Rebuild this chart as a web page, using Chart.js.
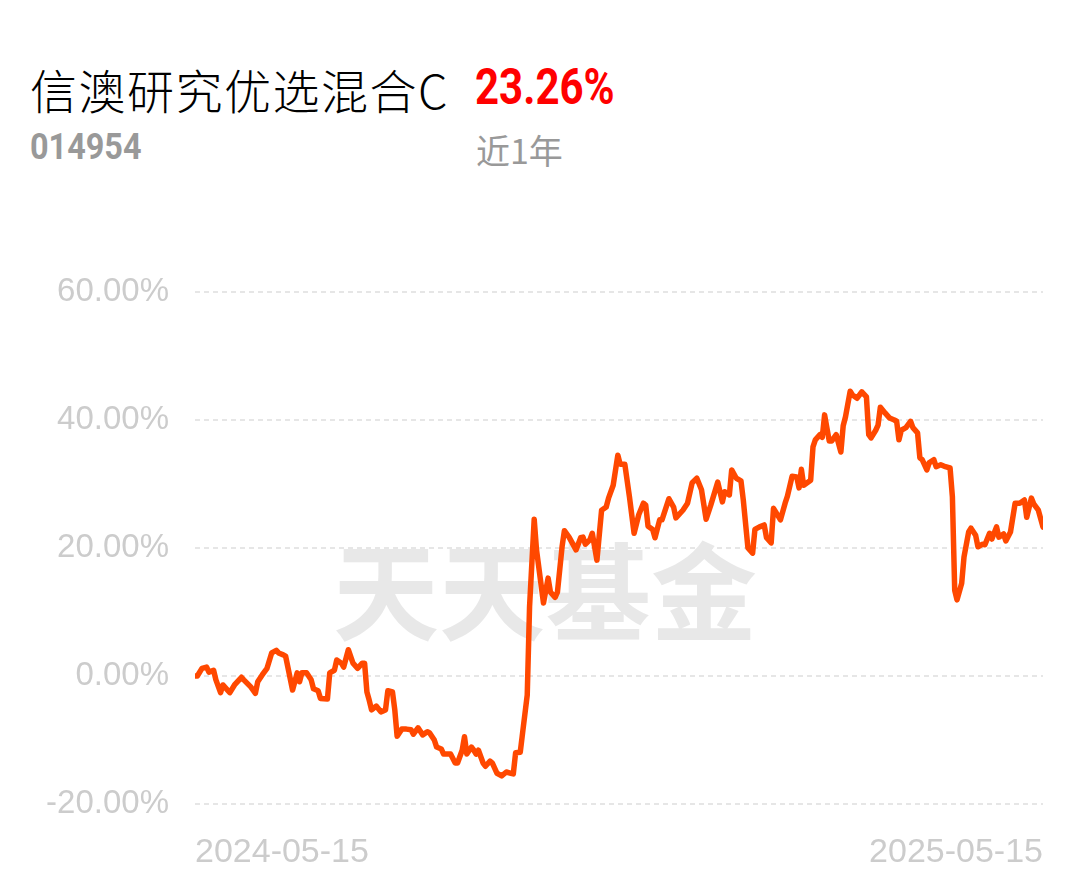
<!DOCTYPE html>
<html>
<head>
<meta charset="utf-8">
<script src="https://cdn.jsdelivr.net/npm/chart.js@4.4.0/dist/chart.umd.min.js"></script>
<style>
  html, body { margin: 0; padding: 0; background: #fff; }
  body { width: 1089px; height: 881px; position: relative; overflow: hidden; }
  .t { position: absolute; white-space: nowrap; line-height: 1; }
  #name { left: 30px; top: 54px; font: 300 47px "Noto Sans CJK SC", sans-serif; color: #000; letter-spacing: 1.5px; }
  #gain { left: 475px; top: 58px; font: bold 50px Roboto, sans-serif; color: #ff0000; transform: scaleX(0.84); transform-origin: left top; }
  #code { left: 30px; top: 126px; font: bold 36px Roboto, sans-serif; color: #999; transform: scaleX(0.9); transform-origin: left top; }
  #period { left: 476px; top: 125px; font: 34px "Noto Sans CJK SC", sans-serif; color: #999; }
  #wrap { position: absolute; left: 0; top: 0; width: 1089px; height: 881px; }
</style>
</head>
<body>
<div class="t" id="name">信澳研究优选混合C</div>
<div class="t" id="gain">23.26%</div>
<div class="t" id="code">014954</div>
<div class="t" id="period">近1年</div>
<div id="wrap"><canvas id="c" width="1089" height="881"></canvas></div>
<script>
// days since 2024-05-15
const days = [0,1,3,5,6,8,9,11,12,14,15,17,20,21,24,26,27,29,31,33,35,36,38,39,42,44,45,46,48,50,51,53,54,57,
  58,60,61,63,64,66,68,70,72,73,74,75,76,78,80,82,83,85,86,87,89,91,93,94,96,98,100,101,103,104,106,107,108,110,
  112,113,115,116,117,119,120,121,122,124,125,127,128,130,132,134,136,137,138,140,141,143,144,146,147,150,152,153,
  155,156,158,159,161,164,166,167,168,170,171,173,175,177,178,180,182,183,185,187,189,191,193,194,195,197,198,200,
  201,204,206,207,210,212,214,216,218,220,222,225,227,228,230,231,233,235,236,238,240,241,243,245,246,248,249,250,
  252,254,255,257,259,260,261,262,265,266,267,269,270,271,273,274,276,278,279,280,282,283,285,287,289,290,291,293,
  294,295,297,299,301,302,303,304,306,308,309,311,312,313,315,316,318,319,321,323,325,326,327,328,330,331,333,334,
  336,337,339,340,342,343,345,346,348,349,351,353,355,357,358,360,361,363,365];
// cumulative return, %
const returns = [0,0,1.2,1.4,0.6,0.9,-0.6,-2.6,-1.4,-2.2,-2.6,-1.4,-0.2,-0.6,-1.7,-2.7,-0.9,0.2,1.2,3.6,4.0,3.6,3.3,3.1,-2.2,0.5,-0.9,0.5,0.5,-0.6,-2.0,-2.3,-3.5,-3.6,
  0.5,0.9,2.5,2.0,1.4,4.1,2.0,1.2,2.0,2.0,-2.5,-3.8,-5.3,-4.7,-5.6,-5.3,-2.3,-2.5,-5.3,-9.4,-8.3,-8.3,-8.4,-9.1,-8.1,-9.2,-8.7,-8.9,-10.0,-11.1,-11.4,-12.2,-12.2,-12.2,
  -13.6,-13.6,-11.6,-9.5,-12.2,-11.1,-11.6,-12.2,-11.6,-13.6,-14.1,-13.3,-13.6,-15.2,-15.6,-15.0,-15.2,-15.3,-12.0,-11.9,-8.9,-3.0,10.8,24.5,19.7,11.4,15.3,13.1,
  12.3,13.1,20.2,22.7,21.7,19.7,21.6,21.7,20.6,21.3,22.3,18.1,25.9,26.4,27.8,29.8,34.5,33.1,33.1,28.0,22.3,25.2,27.0,26.7,23.4,22.9,21.6,24.4,
  24.4,27.7,26.4,24.7,25.9,27.0,30.2,30.9,29.1,24.5,26.7,30.3,27.2,28.8,28.3,32.2,30.9,30.5,27.5,20.0,19.2,22.9,23.3,23.6,21.6,20.8,26.2,25.6,
  24.4,27.0,28.1,31.2,31.1,29.4,32.3,29.8,30.6,35.8,36.9,37.7,37.3,40.8,36.7,36.7,37.7,35.0,39.1,40.5,44.5,43.9,43.4,44.4,43.6,37.7,37.2,38.4,
  39.2,42.0,41.1,40.3,40.0,39.8,36.9,38.4,38.8,39.8,38.8,38.0,34.1,33.8,32.2,33.3,33.8,32.7,33.0,32.7,32.5,28.0,13.4,11.9,14.5,18.6,22.5,23.1,
  22.0,20.2,20.6,20.5,22.3,21.4,23.3,21.7,22.2,21.1,22.5,27.0,27.0,27.5,24.8,27.8,26.9,25.9,23.26];
const dateLabels = ["2024-05-15", "2025-05-15"];
const yTicks = [-20, 0, 20, 40, 60];

const watermark = {
  id: 'watermark',
  beforeDatasetsDraw(chart) {
    const ctx = chart.ctx;
    const a = chart.chartArea;
    ctx.save();
    ctx.font = 'bold 106px "Noto Sans CJK SC", sans-serif';
    ctx.fillStyle = '#e8e8e8';
    ctx.textAlign = 'center';
    ctx.textBaseline = 'middle';
    ctx.fillText('天天基金', a.left + 350, a.top + 300);
    ctx.restore();
  }
};

new Chart(document.getElementById('c'), {
  type: 'line',
  data: {
    datasets: [{
      data: days.map((d, i) => ({ x: d, y: returns[i] })),
      borderColor: '#ff4800',
      borderWidth: 5.5,
      pointRadius: 0,
      tension: 0,
      borderJoinStyle: 'round',
      borderCapStyle: 'round',
      fill: false
    }]
  },
  options: {
    responsive: false,
    animation: false,
    devicePixelRatio: 1,
    layout: { padding: { left: 0, right: 46, top: 292, bottom: 0 } },
    plugins: { legend: { display: false }, tooltip: { enabled: false } },
    scales: {
      x: {
        type: 'linear',
        min: 0,
        max: 365,
        grid: { display: false, drawTicks: false },
        border: { display: false },
        afterBuildTicks: axis => { axis.ticks = [{ value: 0 }, { value: 365 }]; },
        afterFit: axis => { axis.height = 77; },
        ticks: {
          autoSkip: false,
          maxRotation: 0,
          align: 'inner',
          padding: 28,
          color: '#cccccc',
          font: { family: '"Liberation Sans", Arial, sans-serif', size: 34 },
          callback: (v, i) => dateLabels[i]
        }
      },
      y: {
        min: -20,
        max: 60,
        afterBuildTicks: axis => { axis.ticks = yTicks.map(v => ({ value: v })); },
        afterFit: axis => { axis.width = 195; },
        grid: { color: '#e6e6e6', lineWidth: 2, drawTicks: false },
        border: { display: false, dash: [5, 4] },
        ticks: {
          padding: 26,
          color: '#cccccc',
          font: { family: '"Liberation Sans", Arial, sans-serif', size: 33 },
          callback: v => v.toFixed(2) + '%'
        }
      }
    }
  },
  plugins: [watermark]
});
</script>
</body>
</html>
